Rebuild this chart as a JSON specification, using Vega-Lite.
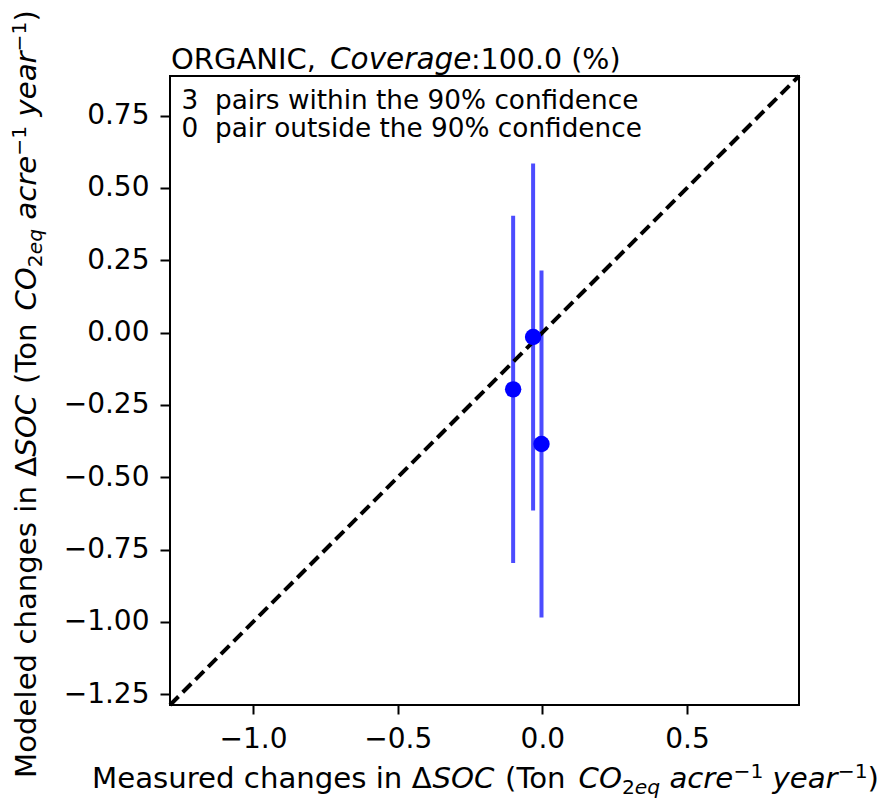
{
  "$schema": "https://vega.github.io/schema/vega-lite/v6.json",
  "width": 629,
  "height": 629,
  "autosize": "none",
  "padding": {"left": 170, "top": 76, "right": 82, "bottom": 96},
  "background": "white",
  "config": {
    "font": "DejaVu Sans",
    "view": {"stroke": "black", "strokeWidth": 2},
    "axis": {
      "domain": false,
      "grid": false,
      "ticks": true,
      "tickColor": "black",
      "tickWidth": 2,
      "labelColor": "black",
      "labelFont": "DejaVu Sans",
      "labelFontSize": 28,
      "title": null
    },
    "text": {"color": "black", "font": "DejaVu Sans", "align": "left", "baseline": "alphabetic"}
  },
  "datasets": {
    "pairs": [
      {"measured": -0.101, "modeled": -0.196, "lower": -0.796, "upper": 0.404},
      {"measured": -0.032, "modeled": -0.015, "lower": -0.615, "upper": 0.585},
      {"measured": -0.003, "modeled": -0.385, "lower": -0.985, "upper": 0.215}
    ],
    "diagonal": [
      {"v": -1.287},
      {"v": 0.887}
    ]
  },
  "layer": [
    {
      "data": {"name": "pairs"},
      "mark": {"type": "rule", "color": "#0000ff", "opacity": 0.7, "strokeWidth": 4},
      "encoding": {
        "x": {
          "field": "measured", "type": "quantitative",
          "scale": {"domain": [-1.287, 0.887], "nice": false, "zero": false},
          "axis": {"values": [-1, -0.5, 0, 0.5], "format": ".1f", "tickSize": 9, "labelPadding": 11, "title": null}
        },
        "y": {
          "field": "lower", "type": "quantitative",
          "scale": {"domain": [-1.287, 0.887], "nice": false, "zero": false},
          "axis": {"values": [-1.25, -1, -0.75, -0.5, -0.25, 0, 0.25, 0.5, 0.75], "format": ".2f", "tickSize": 10, "labelPadding": 11, "title": null}
        },
        "y2": {"field": "upper"}
      }
    },
    {
      "data": {"name": "diagonal"},
      "mark": {"type": "line", "color": "black", "strokeWidth": 4, "strokeDash": [12, 6]},
      "encoding": {
        "x": {"field": "v", "type": "quantitative"},
        "y": {"field": "v", "type": "quantitative"}
      }
    },
    {
      "data": {"name": "pairs"},
      "mark": {"type": "circle", "color": "#0000ff", "opacity": 1, "size": 270},
      "encoding": {
        "x": {"field": "measured", "type": "quantitative"},
        "y": {"field": "modeled", "type": "quantitative"}
      }
    },
    {
      "data": {"values": [{"t": "ORGANIC,"}]},
      "mark": {"type": "text", "dx": 1, "dy": -7, "fontSize": 29},
      "encoding": {"x": {"datum": -1.287, "type": "quantitative"}, "y": {"datum": 0.887, "type": "quantitative"}, "text": {"field": "t"}}
    },
    {
      "data": {"values": [{"t": "Coverage"}]},
      "mark": {"type": "text", "dx": 160, "dy": -7, "fontSize": 29.5, "fontStyle": "italic"},
      "encoding": {"x": {"datum": -1.287, "type": "quantitative"}, "y": {"datum": 0.887, "type": "quantitative"}, "text": {"field": "t"}}
    },
    {
      "data": {"values": [{"t": ":100.0 (%)"}]},
      "mark": {"type": "text", "dx": 301, "dy": -7, "fontSize": 28.5},
      "encoding": {"x": {"datum": -1.287, "type": "quantitative"}, "y": {"datum": 0.887, "type": "quantitative"}, "text": {"field": "t"}}
    },
    {
      "data": {"values": [{"t": ["3\u00a0 pairs within the 90% confidence", "0\u00a0 pair outside the 90% confidence"]}]},
      "mark": {"type": "text", "dx": 11.5, "dy": 33, "fontSize": 26.3, "lineHeight": 28},
      "encoding": {"x": {"datum": -1.287, "type": "quantitative"}, "y": {"datum": 0.887, "type": "quantitative"}, "text": {"field": "t"}}
    },
    {
      "data": {"values": [{"t": "Measured changes in \u0394"}]},
      "mark": {"type": "text", "dx": -78, "dy": 83, "fontSize": 29.2},
      "encoding": {"x": {"datum": -1.287, "type": "quantitative"}, "y": {"datum": -1.287, "type": "quantitative"}, "text": {"field": "t"}}
    },
    {
      "data": {"values": [{"t": "SOC"}]},
      "mark": {"type": "text", "dx": 262.4, "dy": 83, "fontSize": 29.2, "fontStyle": "italic"},
      "encoding": {"x": {"datum": -1.287, "type": "quantitative"}, "y": {"datum": -1.287, "type": "quantitative"}, "text": {"field": "t"}}
    },
    {
      "data": {"values": [{"t": "(Ton"}]},
      "mark": {"type": "text", "dx": 335, "dy": 83, "fontSize": 29.2},
      "encoding": {"x": {"datum": -1.287, "type": "quantitative"}, "y": {"datum": -1.287, "type": "quantitative"}, "text": {"field": "t"}}
    },
    {
      "data": {"values": [{"t": "CO"}]},
      "mark": {"type": "text", "dx": 408.5, "dy": 83, "fontSize": 29.2, "fontStyle": "italic"},
      "encoding": {"x": {"datum": -1.287, "type": "quantitative"}, "y": {"datum": -1.287, "type": "quantitative"}, "text": {"field": "t"}}
    },
    {
      "data": {"values": [{"t": "2"}]},
      "mark": {"type": "text", "dx": 451.9, "dy": 89, "fontSize": 20.3},
      "encoding": {"x": {"datum": -1.287, "type": "quantitative"}, "y": {"datum": -1.287, "type": "quantitative"}, "text": {"field": "t"}}
    },
    {
      "data": {"values": [{"t": "eq"}]},
      "mark": {"type": "text", "dx": 464.8, "dy": 89, "fontSize": 20.3, "fontStyle": "italic"},
      "encoding": {"x": {"datum": -1.287, "type": "quantitative"}, "y": {"datum": -1.287, "type": "quantitative"}, "text": {"field": "t"}}
    },
    {
      "data": {"values": [{"t": "acre"}]},
      "mark": {"type": "text", "dx": 499.4, "dy": 83, "fontSize": 29.2, "fontStyle": "italic"},
      "encoding": {"x": {"datum": -1.287, "type": "quantitative"}, "y": {"datum": -1.287, "type": "quantitative"}, "text": {"field": "t"}}
    },
    {
      "data": {"values": [{"t": "\u22121"}]},
      "mark": {"type": "text", "dx": 563.4, "dy": 73, "fontSize": 20.3},
      "encoding": {"x": {"datum": -1.287, "type": "quantitative"}, "y": {"datum": -1.287, "type": "quantitative"}, "text": {"field": "t"}}
    },
    {
      "data": {"values": [{"t": "year"}]},
      "mark": {"type": "text", "dx": 602.5, "dy": 83, "fontSize": 29.2, "fontStyle": "italic"},
      "encoding": {"x": {"datum": -1.287, "type": "quantitative"}, "y": {"datum": -1.287, "type": "quantitative"}, "text": {"field": "t"}}
    },
    {
      "data": {"values": [{"t": "\u22121"}]},
      "mark": {"type": "text", "dx": 667.7, "dy": 73, "fontSize": 20.3},
      "encoding": {"x": {"datum": -1.287, "type": "quantitative"}, "y": {"datum": -1.287, "type": "quantitative"}, "text": {"field": "t"}}
    },
    {
      "data": {"values": [{"t": ")"}]},
      "mark": {"type": "text", "dx": 697.6, "dy": 83, "fontSize": 29.2},
      "encoding": {"x": {"datum": -1.287, "type": "quantitative"}, "y": {"datum": -1.287, "type": "quantitative"}, "text": {"field": "t"}}
    },
    {
      "data": {"values": [{"t": "Modeled changes in \u0394"}]},
      "mark": {"type": "text", "angle": 270, "dx": -73, "dy": -134, "fontSize": 29.2},
      "encoding": {"x": {"datum": -1.287, "type": "quantitative"}, "y": {"datum": -1.287, "type": "quantitative"}, "text": {"field": "t"}}
    },
    {
      "data": {"values": [{"t": "SOC"}]},
      "mark": {"type": "text", "angle": 270, "dx": 248.3, "dy": -134, "fontSize": 29.2, "fontStyle": "italic"},
      "encoding": {"x": {"datum": -1.287, "type": "quantitative"}, "y": {"datum": -1.287, "type": "quantitative"}, "text": {"field": "t"}}
    },
    {
      "data": {"values": [{"t": "(Ton"}]},
      "mark": {"type": "text", "angle": 270, "dx": 321, "dy": -134, "fontSize": 29.2},
      "encoding": {"x": {"datum": -1.287, "type": "quantitative"}, "y": {"datum": -1.287, "type": "quantitative"}, "text": {"field": "t"}}
    },
    {
      "data": {"values": [{"t": "CO"}]},
      "mark": {"type": "text", "angle": 270, "dx": 394.4, "dy": -134, "fontSize": 29.2, "fontStyle": "italic"},
      "encoding": {"x": {"datum": -1.287, "type": "quantitative"}, "y": {"datum": -1.287, "type": "quantitative"}, "text": {"field": "t"}}
    },
    {
      "data": {"values": [{"t": "2"}]},
      "mark": {"type": "text", "angle": 270, "dx": 437.8, "dy": -128, "fontSize": 20.3},
      "encoding": {"x": {"datum": -1.287, "type": "quantitative"}, "y": {"datum": -1.287, "type": "quantitative"}, "text": {"field": "t"}}
    },
    {
      "data": {"values": [{"t": "eq"}]},
      "mark": {"type": "text", "angle": 270, "dx": 450.7, "dy": -128, "fontSize": 20.3, "fontStyle": "italic"},
      "encoding": {"x": {"datum": -1.287, "type": "quantitative"}, "y": {"datum": -1.287, "type": "quantitative"}, "text": {"field": "t"}}
    },
    {
      "data": {"values": [{"t": "acre"}]},
      "mark": {"type": "text", "angle": 270, "dx": 485.3, "dy": -134, "fontSize": 29.2, "fontStyle": "italic"},
      "encoding": {"x": {"datum": -1.287, "type": "quantitative"}, "y": {"datum": -1.287, "type": "quantitative"}, "text": {"field": "t"}}
    },
    {
      "data": {"values": [{"t": "\u22121"}]},
      "mark": {"type": "text", "angle": 270, "dx": 549.3, "dy": -144, "fontSize": 20.3},
      "encoding": {"x": {"datum": -1.287, "type": "quantitative"}, "y": {"datum": -1.287, "type": "quantitative"}, "text": {"field": "t"}}
    },
    {
      "data": {"values": [{"t": "year"}]},
      "mark": {"type": "text", "angle": 270, "dx": 588.4, "dy": -134, "fontSize": 29.2, "fontStyle": "italic"},
      "encoding": {"x": {"datum": -1.287, "type": "quantitative"}, "y": {"datum": -1.287, "type": "quantitative"}, "text": {"field": "t"}}
    },
    {
      "data": {"values": [{"t": "\u22121"}]},
      "mark": {"type": "text", "angle": 270, "dx": 653.6, "dy": -144, "fontSize": 20.3},
      "encoding": {"x": {"datum": -1.287, "type": "quantitative"}, "y": {"datum": -1.287, "type": "quantitative"}, "text": {"field": "t"}}
    },
    {
      "data": {"values": [{"t": ")"}]},
      "mark": {"type": "text", "angle": 270, "dx": 683.5, "dy": -134, "fontSize": 29.2},
      "encoding": {"x": {"datum": -1.287, "type": "quantitative"}, "y": {"datum": -1.287, "type": "quantitative"}, "text": {"field": "t"}}
    }
  ]
}
